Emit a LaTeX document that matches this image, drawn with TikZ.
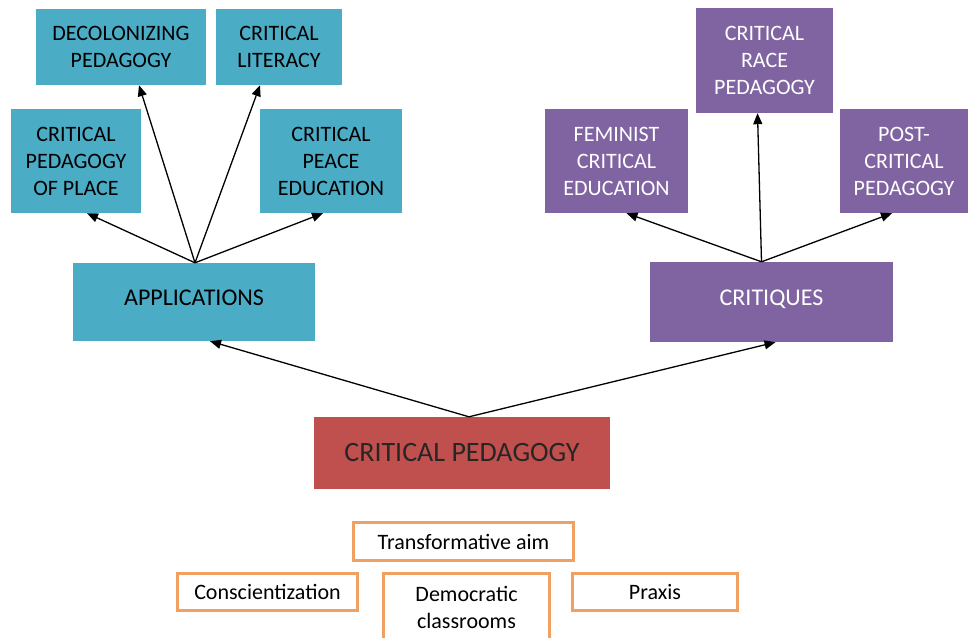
\documentclass[tikz,border=0pt]{standalone}
\usepackage{fontspec}
\setmainfont{Carlito}
\usepackage{xcolor}
\usepackage{tikz}
\usetikzlibrary{arrows.meta,positioning,calc}
\definecolor{appblue}{RGB}{75,172,198}
\definecolor{critpurple}{RGB}{128,100,162}
\definecolor{cpred}{RGB}{192,80,77}
\definecolor{aimorange}{RGB}{240,160,96}

\begin{document}
\begin{tikzpicture}[x=1pt,y=-1pt,
	bluebox/.style={fill=appblue,text=black,align=center,inner sep=0pt,font=\fontsize{22}{27}\selectfont},
	purplebox/.style={fill=critpurple,text=white,align=center,inner sep=0pt,font=\fontsize{22}{27}\selectfont},
	bigbox/.style={font=\fontsize{24}{29}\selectfont,text height=17pt,text depth=10pt},
	redbox/.style={fill=cpred,text=black!85,align=center,inner sep=0pt,font=\fontsize{28}{33}\selectfont},
	orangebox/.style={draw=aimorange,line width=3pt,fill=white,align=center,inner sep=0pt,font=\fontsize{22}{27}\selectfont},
	arr/.style={line width=1.3pt,-{Triangle[length=11pt,width=9pt]}}]
	\useasboundingbox (0,0) rectangle (968,637);
	\fill[white] (0,0) rectangle (968,637);
	% applications side
	\node[bluebox,minimum width=170pt,minimum height=76pt] (deco) at (121,47) {DECOLONIZING\\PEDAGOGY};
	\node[bluebox,minimum width=126pt,minimum height=76pt] (literacy) at (279,47) {CRITICAL\\LITERACY};
	\node[bluebox,minimum width=130pt,minimum height=104pt] (place) at (76,161) {CRITICAL\\PEDAGOGY\\OF PLACE};
	\node[bluebox,minimum width=142pt,minimum height=104pt] (peace) at (331,161) {CRITICAL\\PEACE\\EDUCATION};
	\node[bluebox,bigbox,minimum width=242pt,minimum height=78pt] (applications) at (194,302) {APPLICATIONS};
	% critiques side
	\node[purplebox,minimum width=137pt,minimum height=105pt] (race) at (764.5,60.5) {CRITICAL\\RACE\\PEDAGOGY};
	\node[purplebox,minimum width=143pt,minimum height=104pt] (feminist) at (616.5,161) {FEMINIST\\CRITICAL\\EDUCATION};
	\node[purplebox,minimum width=128pt,minimum height=104pt] (postcrit) at (904,161) {POST-\\CRITICAL\\PEDAGOGY};
	\node[purplebox,bigbox,minimum width=243pt,minimum height=80pt] (critiques) at (771.5,302) {CRITIQUES};
	% root
	\node[redbox,minimum width=296pt,minimum height=72pt] (cp) at (462,453) {CRITICAL PEDAGOGY};
	% key ideas
	\node[orangebox,minimum width=220pt,minimum height=38pt] (aim) at (463.5,541.5) {Transformative aim};
	\node[orangebox,minimum width=180pt,minimum height=37pt] (consc) at (267.5,592) {Conscientization};
	\node[orangebox,minimum width=166pt,minimum height=68pt] (democ) at (466.5,607.5) {Democratic\\classrooms};
	\node[orangebox,minimum width=165pt,minimum height=37pt] (praxis) at (655,592) {Praxis};

	\draw[arr] ([xshift=7pt]cp.north) -- ([xshift=16pt]applications.south);
	\draw[arr] ([xshift=7pt]cp.north) -- ([xshift=4pt]critiques.south);
	\draw[arr] ([xshift=1pt]applications.north) -- ([xshift=11pt]place.south);
	\draw[arr] ([xshift=1pt]applications.north) -- ([xshift=18pt]deco.south);
	\draw[arr] ([xshift=1pt]applications.north) -- ([xshift=-19pt]literacy.south);
	\draw[arr] ([xshift=1pt]applications.north) -- ([xshift=-8pt]peace.south);
	\draw[arr] ([xshift=-10pt]critiques.north) -- ([xshift=10pt]feminist.south);
	\draw[arr] ([xshift=-10pt]critiques.north) -- ([xshift=-7pt]race.south);
	\draw[arr] ([xshift=-10pt]critiques.north) -- ([xshift=-12pt]postcrit.south);
\end{tikzpicture}
\end{document}
